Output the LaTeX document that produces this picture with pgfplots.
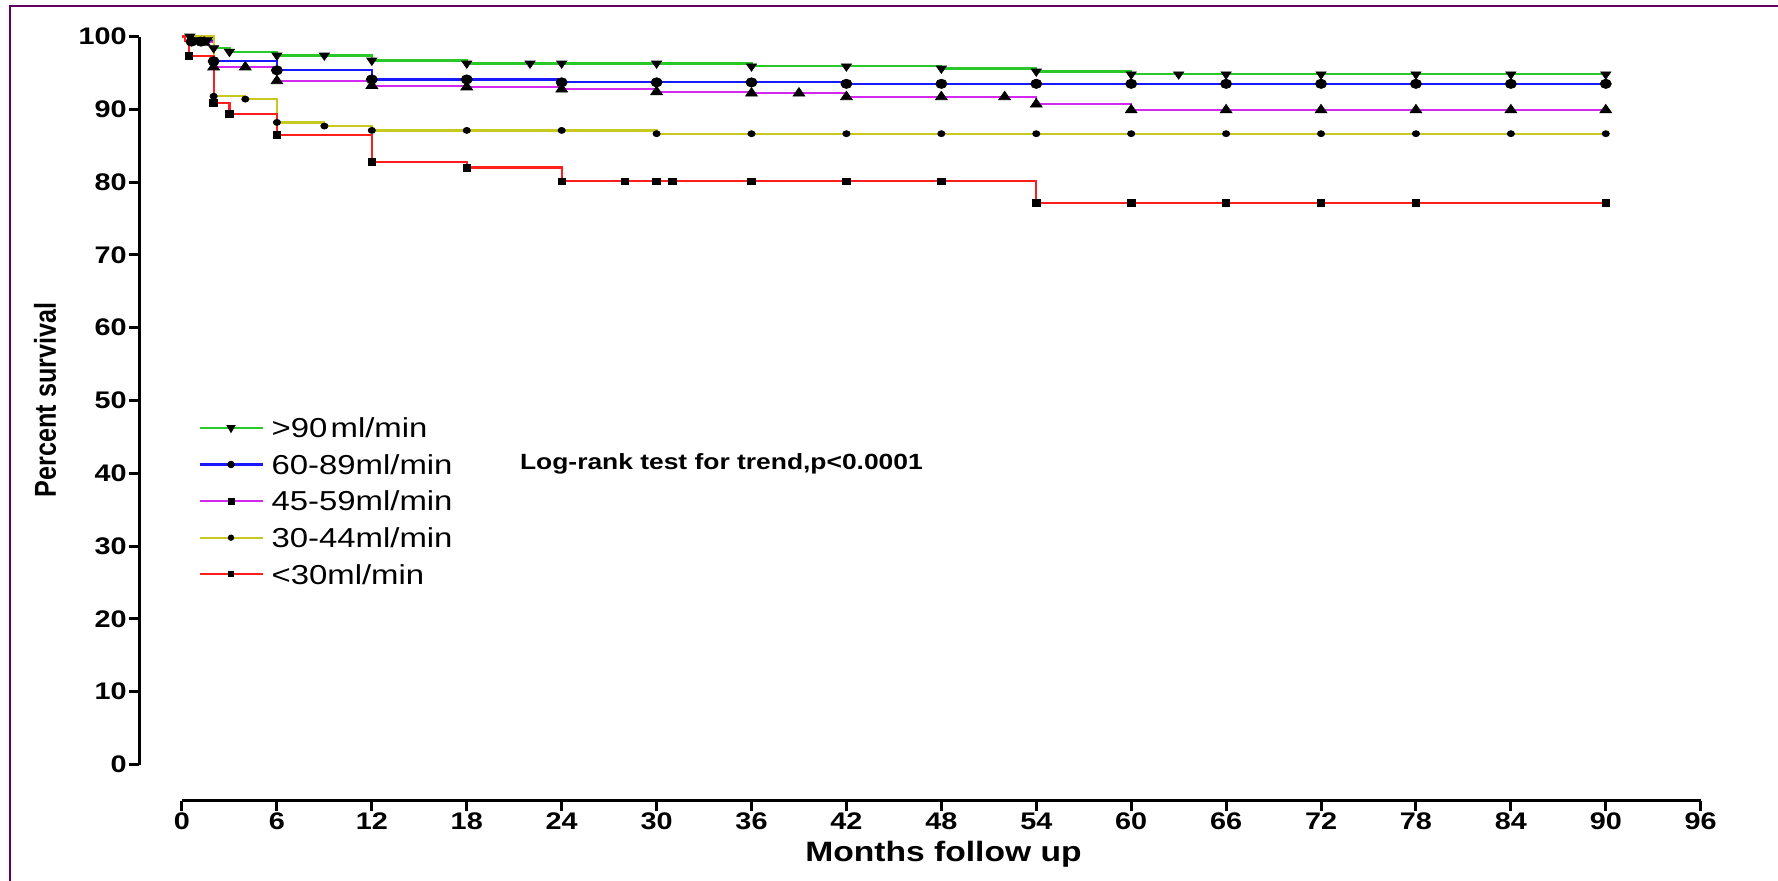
\documentclass[border=0pt]{standalone}
\usepackage{fontspec}
\setmainfont{Liberation Sans}[FakeStretch=1.2]
\newfontfamily\ylabfont{Liberation Sans}
\usepackage{pgfplots}
\pgfplotsset{compat=1.18}
\definecolor{cGreen}{RGB}{40,200,40}
\definecolor{cBlue}{RGB}{25,25,255}
\definecolor{cMag}{RGB}{210,40,240}
\definecolor{cYel}{RGB}{200,200,30}
\definecolor{cRed}{RGB}{255,30,30}
\definecolor{cFrame}{RGB}{96,0,96}
\begin{document}
\begin{tikzpicture}
\useasboundingbox (-91pt,-57.75pt) rectangle (798pt,382.25pt);
\draw[cFrame, line width=1.4pt] (-86pt,-60pt) -- (-86pt,379.2pt) -- (800pt,379.2pt);
\begin{axis}[
  at={(0pt,0pt)}, anchor=south west,
  scale only axis, width=759.35pt, height=364pt,
  xmin=0, xmax=96, ymin=0, ymax=100,
  axis x line*=bottom, axis y line*=left,
  axis x line shift=18pt, axis y line shift=21.25pt,
  axis line style={line width=1.6pt, black},
  xtick={0,6,...,96}, ytick={0,10,...,100},
  tick align=outside, major tick length=5pt,
  tick style={line width=1.5pt, black},
  ticklabel style={font=\bfseries\fontsize{12}{14}\selectfont},
  /pgf/number format/assume math mode=true,
  xticklabel style={inner sep=1pt},
  yticklabel style={inner sep=1.2pt},
  clip=false,
  legend cell align=left,
  legend style={at={(0.01054,0.4764)}, anchor=north west, draw=none, fill=none,
    inner sep=0pt, row sep=8.5pt, column sep=4pt,
    nodes={inner sep=0pt, text height=9.8pt, text depth=0pt},
    font=\fontsize{13.7}{15}\selectfont},
  legend image code/.code={\draw[mark repeat=2,mark phase=2,#1] plot coordinates {(0pt,0pt) (15.75pt,0pt) (31.5pt,0pt)};},
]
\addlegendimage{cGreen, line width=1.1pt, mark=triangle*, mark size=1.6pt, mark options={black, fill=black, rotate=180}}
\addlegendentry{>90\hspace{0.12em}ml/min}
\addlegendimage{cBlue, line width=1.1pt, mark=*, mark size=1.3pt, mark options={black, fill=black}}
\addlegendentry{60-89ml/min}
\addlegendimage{cMag, line width=1.1pt, mark=square*, mark size=1.2pt, mark options={black, fill=black}}
\addlegendentry{45-59ml/min}
\addlegendimage{cYel, line width=1.1pt, mark=*, mark size=1pt, mark options={black, fill=black}}
\addlegendentry{30-44ml/min}
\addlegendimage{cRed, line width=1.1pt, mark=square*, mark size=1pt, mark options={black, fill=black}}
\addlegendentry{<30ml/min}

% >90
\addplot[cGreen, line width=1.1pt, const plot, no marks, forget plot] coordinates {
(0,100) (1,99.5) (2,98.4) (3,97.9) (6,97.4) (12,96.7) (18,96.3) (36,95.9) (48,95.6) (54,95.2) (60,94.8) (90,94.8)};
% 60-89
\addplot[cBlue, line width=1.1pt, const plot, no marks, forget plot] coordinates {
(0,100) (0.6,99.3) (2,96.6) (6,95.35) (12,94.1) (24,93.7) (42,93.5) (90,93.5)};
% 45-59
\addplot[cMag, line width=1.1pt, const plot, no marks, forget plot] coordinates {
(0,100) (1.4,99.2) (2,95.8) (6,93.9) (12,93.25) (18,93.05) (24,92.75) (30,92.4) (36,92.2) (42,91.7) (54,90.7) (60,89.9) (90,89.9)};
% 30-44
\addplot[cYel, line width=1.1pt, const plot, no marks, forget plot] coordinates {
(0,100) (2,91.8) (4,91.4) (6,88.2) (9,87.7) (12,87.1) (30,86.65) (90,86.65)};
% <30
\addplot[cRed, line width=1.1pt, const plot, no marks, forget plot] coordinates {
(0,100) (0.2,99.4) (0.45,97.3) (2,90.9) (3,89.4) (6,86.45) (12,82.8) (18,82.0) (24,80.1) (54,77.1) (90,77.1)};

% censor marks
\addplot[black, only marks, mark=triangle*, mark size=2.4pt, mark options={black, fill=black, rotate=180, xscale=1.2}, forget plot] coordinates {
(0.5,100) (1,99.5) (1.6,99.5) (2,98.4) (3,97.9) (6,97.4) (9,97.4) (12,96.7) (18,96.3) (22,96.3) (24,96.3) (30,96.3) (36,95.9) (42,95.9) (48,95.6) (54,95.2) (60,94.8) (63,94.8) (66,94.8) (72,94.8) (78,94.8) (84,94.8) (90,94.8)};
\addplot[black, only marks, mark=*, mark size=2.3pt, mark options={black, fill=black, xscale=1.2}, forget plot] coordinates {
(0.6,99.3) (1.2,99.3) (2,96.6) (6,95.35) (12,94.1) (18,94.1) (24,93.7) (30,93.7) (36,93.7) (42,93.5) (48,93.5) (54,93.5) (60,93.5) (66,93.5) (72,93.5) (78,93.5) (84,93.5) (90,93.5)};
\addplot[black, only marks, mark=triangle*, mark size=2.8pt, mark options={black, fill=black, xscale=1.2}, forget plot] coordinates {
(1.4,99.2) (2,95.8) (4,95.8) (6,93.9) (12,93.25) (18,93.05) (24,92.75) (30,92.4) (36,92.2) (39,92.2) (42,91.7) (48,91.7) (52,91.7) (54,90.7) (60,89.9) (66,89.9) (72,89.9) (78,89.9) (84,89.9) (90,89.9)};
\addplot[black, only marks, mark=*, mark size=1.5pt, mark options={black, fill=black, xscale=1.2}, forget plot] coordinates {
(2,91.8) (4,91.4) (6,88.2) (9,87.7) (12,87.1) (18,87.1) (24,87.1) (30,86.65) (36,86.65) (42,86.65) (48,86.65) (54,86.65) (60,86.65) (66,86.65) (72,86.65) (78,86.65) (84,86.65) (90,86.65)};
\addplot[black, only marks, mark=square*, mark size=1.7pt, mark options={black, fill=black, xscale=1.1}, forget plot] coordinates {
(0.45,97.3) (2,90.9) (3,89.4) (6,86.45) (12,82.8) (18,82.0) (24,80.1) (28,80.1) (30,80.1) (31,80.1) (36,80.1) (42,80.1) (48,80.1) (54,77.1) (60,77.1) (66,77.1) (72,77.1) (78,77.1) (90,77.1)};
\end{axis}
\node[font=\ylabfont\bfseries\fontsize{12.6}{15}\selectfont, xscale=1.2, rotate=90, transform shape] at (-68.5pt,182.25pt) {Percent survival};
\node[font=\bfseries\fontsize{14}{16}\selectfont] at (380.75pt,-44.75pt) {Months follow up};
\node[font=\bfseries\fontsize{11}{13}\selectfont, anchor=west] at (165.5pt,150.25pt) {Log-rank test for trend,p<0.0001};
\end{tikzpicture}
\end{document}
